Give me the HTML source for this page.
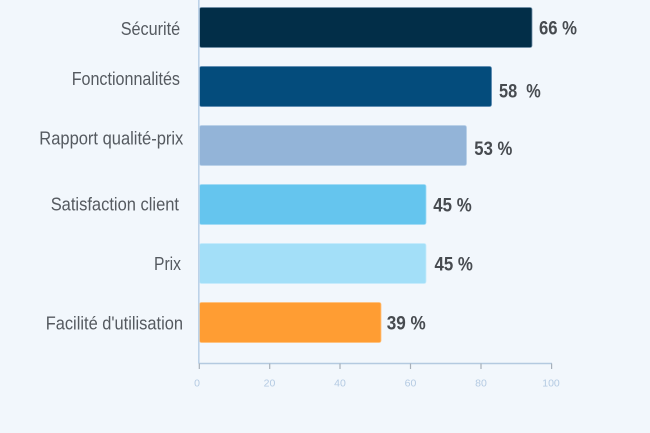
<!DOCTYPE html>
<html>
<head>
<meta charset="utf-8">
<style>
html,body{margin:0;padding:0;background:#f2f7fc;}
body{width:650px;height:433px;overflow:hidden;}
svg{display:block;}
.cat{font-family:"Liberation Sans",sans-serif;font-size:18px;fill:#555a60;}
.val{font-family:"Liberation Sans",sans-serif;font-size:19px;font-weight:bold;fill:#474b50;}
.tick{font-family:"Liberation Sans",sans-serif;font-size:10.5px;fill:#b4cae2;text-anchor:middle;}
</style>
</head>
<body>
<svg width="650" height="433" viewBox="0 0 650 433" xmlns="http://www.w3.org/2000/svg">
<rect x="0" y="0" width="650" height="433" fill="#f2f7fc"/>
<!-- bars -->
<rect x="199.5" y="7.5" width="332.5" height="40" rx="2" fill="#022e48" stroke="#6f8ea6" stroke-width="0.8"/>
<rect x="199.5" y="66.5" width="292" height="40" rx="2" fill="#044c7c" stroke="#5a88b0" stroke-width="0.8"/>
<rect x="199.5" y="125.5" width="267" height="40" rx="2" fill="#93b4d8" stroke="#b8d0e8" stroke-width="0.8"/>
<rect x="199.5" y="184.5" width="226.5" height="40" rx="2" fill="#65c5ee" stroke="#9edaf5" stroke-width="0.8"/>
<rect x="199.5" y="243.5" width="226.5" height="40" rx="2" fill="#a3dff8" stroke="#c6ebfb" stroke-width="0.8"/>
<rect x="199.5" y="302.5" width="181.5" height="40" rx="2" fill="#ff9d33" stroke="#ffc07a" stroke-width="0.8"/>
<!-- axes -->
<line x1="198.8" y1="0" x2="198.8" y2="363.5" stroke="#bcd2e8" stroke-width="1.6"/>
<line x1="198.8" y1="363.5" x2="552" y2="363.5" stroke="#b4cae0" stroke-width="1.6"/>
<g stroke="#a7b0ba" stroke-width="1.2">
<line x1="199.3" y1="363.5" x2="199.3" y2="369"/>
<line x1="269.7" y1="363.5" x2="269.7" y2="369"/>
<line x1="340" y1="363.5" x2="340" y2="369"/>
<line x1="410.5" y1="363.5" x2="410.5" y2="369"/>
<line x1="481" y1="363.5" x2="481" y2="369"/>
<line x1="551.6" y1="363.5" x2="551.6" y2="369"/>
</g>
<text class="tick" x="197" y="386.5">0</text>
<text class="tick" x="269.5" y="386.5">20</text>
<text class="tick" x="340" y="386.5">40</text>
<text class="tick" x="410.5" y="386.5">60</text>
<text class="tick" x="481" y="386.5">80</text>
<text class="tick" x="551" y="386.5">100</text>
<!-- category labels -->
<text class="cat" x="120.7" y="35" textLength="59.5" lengthAdjust="spacingAndGlyphs">Sécurité</text>
<text class="cat" x="71.7" y="85" textLength="108.3" lengthAdjust="spacingAndGlyphs">Fonctionnalités</text>
<text class="cat" x="39.3" y="144.3" textLength="144" lengthAdjust="spacingAndGlyphs">Rapport qualité-prix</text>
<text class="cat" x="50.7" y="210.7" textLength="128.3" lengthAdjust="spacingAndGlyphs">Satisfaction client</text>
<text class="cat" x="154" y="270" textLength="27" lengthAdjust="spacingAndGlyphs">Prix</text>
<text class="cat" x="45.7" y="329.3" textLength="137.3" lengthAdjust="spacingAndGlyphs">Facilité d'utilisation</text>
<!-- value labels -->
<text class="val" x="539" y="34.7" textLength="38" lengthAdjust="spacingAndGlyphs">66 %</text>
<text class="val" x="499" y="97.3" textLength="41.7" lengthAdjust="spacingAndGlyphs">58 &#160;%</text>
<text class="val" x="474.3" y="155" textLength="38" lengthAdjust="spacingAndGlyphs">53 %</text>
<text class="val" x="433.3" y="211.7" textLength="38.4" lengthAdjust="spacingAndGlyphs">45 %</text>
<text class="val" x="434.5" y="270.3" textLength="38.4" lengthAdjust="spacingAndGlyphs">45 %</text>
<text class="val" x="386.7" y="329.3" textLength="39" lengthAdjust="spacingAndGlyphs">39 %</text>
</svg>
</body>
</html>
